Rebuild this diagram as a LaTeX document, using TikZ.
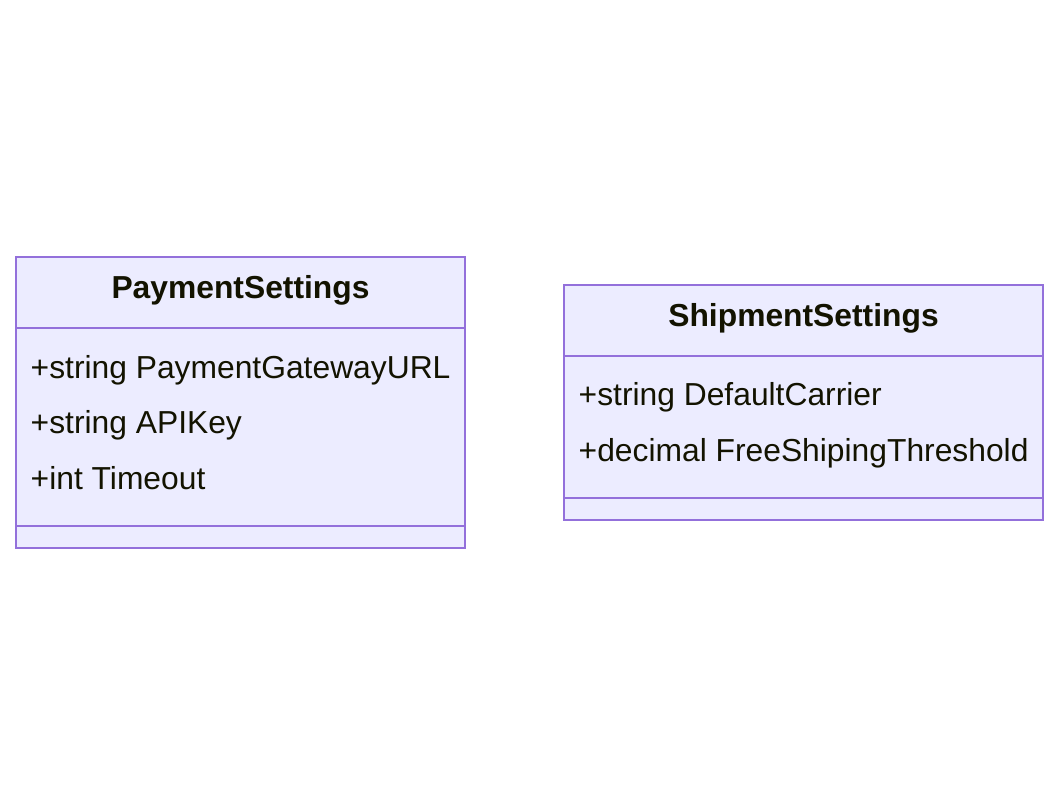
\documentclass[tikz,border=0pt]{standalone}
\usepackage{fontspec}
\setmainfont{Liberation Sans}
\definecolor{boxfill}{HTML}{ECECFF}
\definecolor{boxline}{HTML}{9370DB}
\definecolor{txt}{HTML}{131300}
\begin{document}
\begin{tikzpicture}[x=1pt,y=-1pt,
  cls/.style={draw=boxline,fill=boxfill,line width=2pt},
  sep/.style={draw=boxline,line width=2pt},
  title/.style={inner sep=0pt,anchor=base,text=txt,font=\fontsize{31.8}{36}\selectfont\bfseries},
  attr/.style={inner sep=0pt,anchor=base west,text=txt,font=\fontsize{31.8}{36}\selectfont}]
\useasboundingbox (0,0) rectangle (1059,805);
% PaymentSettings
\path[cls] (16,257) rectangle (465,548);
\draw[sep] (16,328) -- (465,328);
\draw[sep] (16,526) -- (465,526);
\node[title] (pt) at (240.5,298) {PaymentSettings};
\node[attr] (pa1) at (30.5,378.5) {+string PaymentGatewayURL};
\node[attr] (pa2) at (30.5,433.5) {+string APIKey};
\node[attr] (pa3) at (30.5,489.5) {+int Timeout};
% ShipmentSettings
\path[cls] (564,285) rectangle (1043,520);
\draw[sep] (564,356) -- (1043,356);
\draw[sep] (564,498) -- (1043,498);
\node[title] (st) at (803.5,326) {ShipmentSettings};
\node[attr] (sa1) at (578.5,405) {+string DefaultCarrier};
\node[attr] (sa2) at (578.5,461) {+decimal FreeShipingThreshold};
\end{tikzpicture}
\end{document}
